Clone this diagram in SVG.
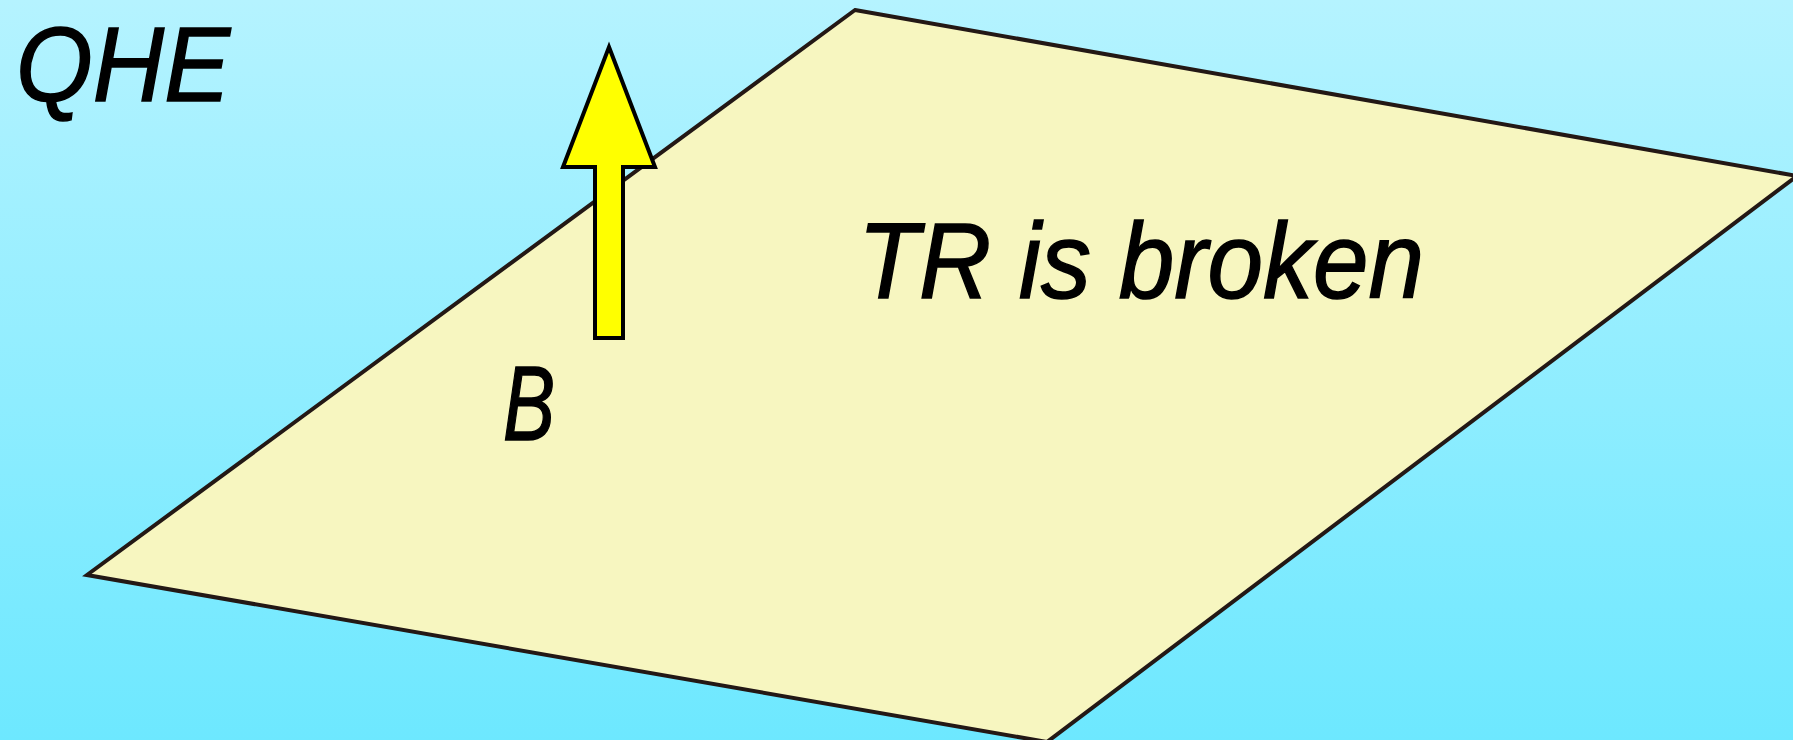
<svg xmlns="http://www.w3.org/2000/svg" width="1793" height="740" viewBox="0 0 1793 740">
<defs>
<linearGradient id="bg" x1="0" y1="0" x2="0" y2="1">
<stop offset="0" stop-color="#B5F3FF"/>
<stop offset="1" stop-color="#6DE8FF"/>
</linearGradient>
<style>
.t{font-family:"Liberation Sans",Arial,sans-serif;font-style:italic;fill:#000;stroke:#000;stroke-width:1.5}
.plane{fill:#F7F6C0;stroke:#231815;stroke-width:4;stroke-linejoin:miter}
.arrow{fill:#FFFF00;stroke:#000;stroke-width:4;stroke-linejoin:miter}
</style>
</defs>
<rect x="0" y="0" width="1793" height="740" fill="url(#bg)"/>
<g id="plane">
<polygon class="plane" points="855,10 1797,176 1047,742 87,575"/>
</g>
<g id="connectors">
<polygon class="arrow" points="609,47 655,167 623,167 623,338 595,338 595,167 563,167"/>
</g>
<g id="label-qhe"><text class="t" x="16" y="101" font-size="106" textLength="214" lengthAdjust="spacingAndGlyphs">QHE</text></g>
<g id="label-tr"><text class="t" x="858" y="298" font-size="108" textLength="566" lengthAdjust="spacingAndGlyphs">TR is broken</text></g>
<g id="label-b"><text class="t" x="503" y="440" font-size="106" textLength="52" lengthAdjust="spacingAndGlyphs">B</text></g>
</svg>
